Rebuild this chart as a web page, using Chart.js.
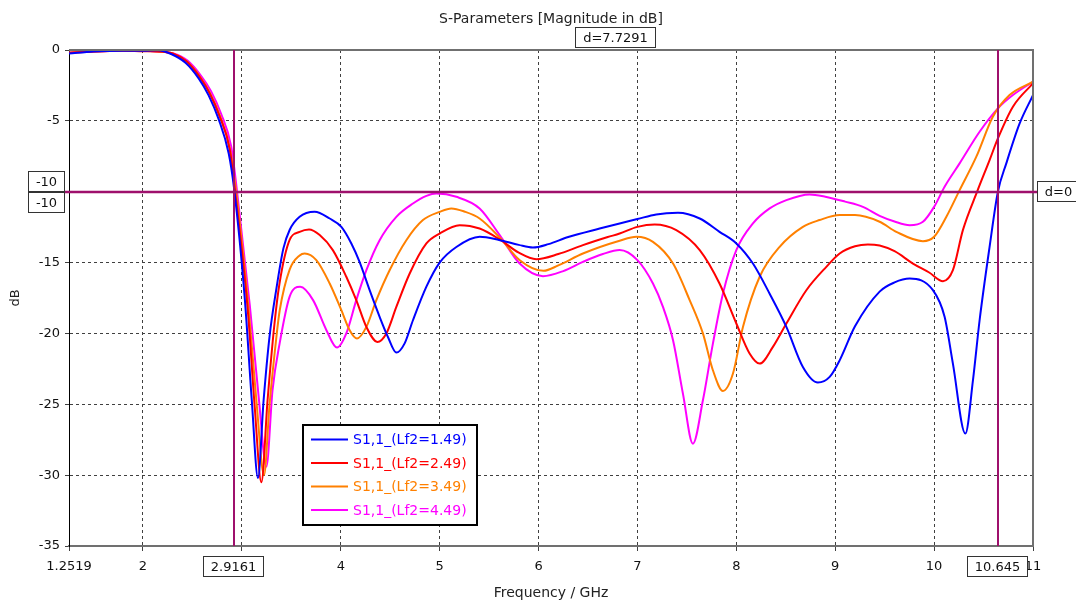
<!DOCTYPE html>
<html lang="en">
<head>
<meta charset="UTF-8">
<title>S-Parameters [Magnitude in dB]</title>
<script src="https://cdn.jsdelivr.net/npm/chart.js"></script>
<style>
  html, body { margin: 0; padding: 0; background: #ffffff; }
  canvas { display: block; }
</style>
</head>
<body>
<canvas id="sparams" width="1076" height="603"></canvas>
<script>
// S1,1 curves (frequency in GHz, magnitude in dB)
const freqBlue = [1.2519, 1.5, 1.8, 2.0, 2.15, 2.29, 2.43, 2.563, 2.664, 2.766, 2.867, 2.92, 3.03, 3.10, 3.163, 3.22, 3.28, 3.35, 3.42, 3.483, 3.584, 3.736, 3.888, 4.006, 4.107, 4.19, 4.292, 4.393, 4.477, 4.562, 4.646, 4.73, 4.866, 5.0, 5.169, 5.405, 5.6, 5.8, 5.943, 6.1, 6.3, 6.618, 6.82, 7.0, 7.19, 7.41, 7.63, 7.83, 8.0, 8.168, 8.337, 8.506, 8.673, 8.825, 8.944, 9.045, 9.2, 9.449, 9.6, 9.753, 9.988, 10.106, 10.19, 10.316, 10.393, 10.46, 10.561, 10.645, 10.73, 10.865, 11.0];
const dbBlue   = [-0.25, -0.1, -0.05, -0.05, -0.02, -0.3, -0.9, -2.0, -3.2, -4.9, -7.3, -9.7, -17.6, -24.7, -30.2, -24.7, -20.2, -16.8, -14.0, -12.7, -11.77, -11.42, -11.89, -12.48, -13.65, -14.95, -16.95, -18.83, -20.25, -21.35, -20.7, -19.07, -16.7, -15.0, -13.9, -13.18, -13.4, -13.75, -13.94, -13.7, -13.2, -12.6, -12.24, -11.93, -11.6, -11.49, -11.89, -12.83, -13.65, -15.07, -17.2, -19.54, -22.37, -23.47, -23.07, -21.9, -19.5, -17.05, -16.4, -16.13, -16.95, -18.83, -22.13, -27.07, -23.3, -19.07, -13.89, -10.0, -8.0, -5.18, -3.18];

const freqRed = [1.2519, 1.5, 1.8, 2.0, 2.15, 2.3, 2.44, 2.573, 2.674, 2.776, 2.877, 2.93, 3.06, 3.13, 3.197, 3.26, 3.33, 3.38, 3.483, 3.584, 3.679, 3.787, 3.92, 4.056, 4.157, 4.259, 4.37, 4.461, 4.562, 4.697, 4.866, 5.0, 5.202, 5.404, 5.607, 5.8, 5.978, 6.2, 6.449, 6.7, 6.82, 7.0, 7.174, 7.393, 7.63, 7.83, 8.0, 8.134, 8.236, 8.37, 8.506, 8.708, 8.91, 9.045, 9.2, 9.33, 9.449, 9.6, 9.786, 9.95, 10.09, 10.19, 10.291, 10.437, 10.561, 10.645, 10.797, 11.0];
const dbRed   = [-0.2, -0.1, -0.05, -0.08, -0.1, -0.25, -0.8, -1.9, -3.05, -4.7, -7.0, -9.9, -18.4, -25.2, -30.5, -24.7, -19.3, -16.5, -13.4, -12.83, -12.66, -13.06, -14.12, -16.0, -17.65, -19.54, -20.6, -20.0, -18.13, -15.77, -13.65, -12.95, -12.36, -12.6, -13.37, -14.3, -14.76, -14.4, -13.77, -13.2, -12.95, -12.48, -12.31, -12.71, -14.12, -16.48, -19.3, -21.42, -22.13, -20.95, -19.3, -16.95, -15.3, -14.36, -13.85, -13.72, -13.8, -14.2, -15.07, -15.7, -16.31, -15.54, -12.71, -9.96, -7.77, -6.24, -4.0, -2.35];

const freqOrange = [1.2519, 1.5, 1.8, 2.0, 2.15, 2.3, 2.44, 2.573, 2.674, 2.776, 2.877, 2.94, 3.07, 3.15, 3.224, 3.28, 3.35, 3.382, 3.483, 3.584, 3.635, 3.753, 3.888, 4.006, 4.09, 4.164, 4.259, 4.36, 4.494, 4.663, 4.831, 5.0, 5.118, 5.25, 5.404, 5.607, 5.81, 6.05, 6.2, 6.449, 6.82, 6.99, 7.157, 7.36, 7.528, 7.662, 7.763, 7.865, 7.966, 8.067, 8.236, 8.438, 8.673, 8.842, 9.045, 9.2, 9.449, 9.618, 9.887, 10.0, 10.124, 10.258, 10.427, 10.594, 10.763, 11.0];
const dbOrange   = [-0.2, -0.1, -0.05, -0.05, -0.1, -0.25, -0.8, -1.85, -3.0, -4.6, -6.9, -9.9, -18.4, -25.0, -30.0, -25.0, -20.2, -18.4, -15.5, -14.5, -14.36, -14.83, -16.48, -18.36, -19.77, -20.36, -19.54, -17.65, -15.54, -13.42, -12.0, -11.42, -11.18, -11.4, -11.89, -13.23, -14.83, -15.58, -15.2, -14.36, -13.46, -13.18, -13.54, -15.07, -17.65, -20.0, -22.6, -24.06, -22.83, -19.54, -16.0, -13.89, -12.48, -12.0, -11.65, -11.65, -12.12, -12.83, -13.49, -13.18, -11.77, -9.89, -7.53, -4.71, -3.18, -2.24];

const freqMagenta = [1.2519, 1.5, 1.8, 2.0, 2.15, 2.31, 2.45, 2.585, 2.688, 2.79, 2.892, 2.95, 3.08, 3.17, 3.248, 3.31, 3.382, 3.483, 3.59, 3.72, 3.855, 3.962, 4.056, 4.157, 4.259, 4.393, 4.562, 4.73, 4.866, 4.967, 5.169, 5.404, 5.607, 5.809, 6.045, 6.25, 6.449, 6.65, 6.82, 7.0, 7.157, 7.258, 7.36, 7.46, 7.561, 7.662, 7.763, 7.865, 8.0, 8.168, 8.337, 8.506, 8.74, 8.9, 9.1, 9.28, 9.449, 9.6, 9.753, 9.887, 10.0, 10.106, 10.258, 10.46, 10.645, 10.797, 11.0];
const dbMagenta   = [-0.2, -0.1, -0.05, -0.05, -0.1, -0.25, -0.75, -1.8, -2.9, -4.5, -6.8, -9.9, -18.0, -24.5, -29.4, -24.0, -20.7, -17.4, -16.71, -17.65, -19.77, -21.0, -20.0, -17.65, -15.54, -13.42, -11.77, -10.83, -10.29, -10.12, -10.36, -11.18, -13.06, -15.07, -15.96, -15.6, -14.95, -14.4, -14.12, -14.83, -16.48, -18.13, -20.48, -24.25, -27.78, -24.72, -20.72, -17.18, -14.12, -12.24, -11.18, -10.59, -10.19, -10.35, -10.7, -11.07, -11.7, -12.1, -12.36, -12.12, -11.07, -9.65, -8.0, -5.77, -4.12, -3.18, -2.24];

const seriesLabels = ['S1,1_(Lf2=1.49)', 'S1,1_(Lf2=2.49)', 'S1,1_(Lf2=3.49)', 'S1,1_(Lf2=4.49)'];
const seriesColors = ['#0000ff', '#ff0000', '#ff8000', '#ff00ff'];

const xTicks = [1.2519, 2, 3, 4, 5, 6, 7, 8, 9, 10, 11];
const yTicks = [-35, -30, -25, -20, -15, -10, -5, 0];

// marker positions from the reference (CST style markers)
const markerFreqs = [2.9161, 10.645];
const markerLevel = -10;

const FONT = "'DejaVu Sans', sans-serif";
const MARKER_COLOR = '#9e106c';
const FRAME_COLOR = '#707070';
const GRID_COLOR = '#404040';

function toPoints(xs, ys) {
    return xs.map((x, i) => ({ x: x, y: ys[i] }));
}

function drawBox(ctx, text, cx, cy, opts = {}) {
    ctx.font = '13px ' + FONT;
    const w = opts.width || Math.round(ctx.measureText(text).width + 16);
    const h = 21;
    const left = opts.right !== undefined ? opts.right - w : (opts.left !== undefined ? opts.left : Math.round(cx - w / 2));
    const top = Math.round(cy - h / 2);
    ctx.fillStyle = '#ffffff';
    ctx.fillRect(left, top, w, h);
    ctx.strokeStyle = '#333333';
    ctx.lineWidth = 1;
    ctx.strokeRect(left + 0.5, top + 0.5, w - 1, h - 1);
    ctx.fillStyle = '#111111';
    ctx.textAlign = 'center';
    ctx.textBaseline = 'middle';
    ctx.fillText(text, left + w / 2, top + h / 2 + 1);
}

const extras = {
    id: 'extras',
    beforeDraw(chart) {
        const ctx = chart.ctx;
        ctx.save();
        ctx.fillStyle = '#ffffff';
        ctx.fillRect(0, 0, chart.width, chart.height);
        ctx.restore();
    },
    afterDatasetsDraw(chart) {
        const ctx = chart.ctx;
        const area = chart.chartArea;
        const xs = chart.scales.x;
        const ys = chart.scales.y;
        ctx.save();
        // top and right frame
        ctx.strokeStyle = FRAME_COLOR;
        ctx.lineWidth = 2;
        ctx.beginPath();
        ctx.moveTo(area.left, area.top);
        ctx.lineTo(area.right, area.top);
        ctx.lineTo(area.right, area.bottom);
        ctx.stroke();

        // marker lines
        ctx.strokeStyle = MARKER_COLOR;
        ctx.lineWidth = 2;
        markerFreqs.forEach(f => {
            const px = Math.round(xs.getPixelForValue(f));
            ctx.beginPath();
            ctx.moveTo(px, area.top);
            ctx.lineTo(px, area.bottom);
            ctx.stroke();
        });
        const py = Math.round(ys.getPixelForValue(markerLevel));
        ctx.lineWidth = 2.5;
        ctx.beginPath();
        ctx.moveTo(area.left - 5, py);
        ctx.lineTo(area.right + 4, py);
        ctx.stroke();
        ctx.restore();
    },
    afterDraw(chart) {
        const ctx = chart.ctx;
        const area = chart.chartArea;
        const xs = chart.scales.x;
        const ys = chart.scales.y;
        ctx.save();

        // titles
        ctx.fillStyle = '#222222';
        ctx.font = '14px ' + FONT;
        ctx.textAlign = 'center';
        ctx.textBaseline = 'middle';
        ctx.fillText('S-Parameters [Magnitude in dB]', 551, 19);
        ctx.fillText('Frequency / GHz', 551, 593);
        ctx.save();
        ctx.translate(16, (area.top + area.bottom) / 2);
        ctx.rotate(-Math.PI / 2);
        ctx.font = '13px ' + FONT;
        ctx.fillText('dB', 0, 0);
        ctx.restore();

        // legend
        const lx = 303, ly = 425, lw = 174, lh = 100;
        ctx.fillStyle = '#ffffff';
        ctx.fillRect(lx, ly, lw, lh);
        ctx.strokeStyle = '#000000';
        ctx.lineWidth = 2;
        ctx.strokeRect(lx, ly, lw, lh);
        ctx.font = '14px ' + FONT;
        ctx.textAlign = 'left';
        ctx.textBaseline = 'middle';
        chart.data.datasets.forEach((ds, i) => {
            const y = 439.5 + i * 23.5;
            ctx.strokeStyle = ds.borderColor;
            ctx.lineWidth = 2;
            ctx.beginPath();
            ctx.moveTo(311, y);
            ctx.lineTo(348, y);
            ctx.stroke();
            ctx.fillStyle = ds.borderColor;
            ctx.fillText(ds.label, 353, y + 1);
        });

        // marker value boxes
        const m0 = xs.getPixelForValue(markerFreqs[0]);
        const m1 = xs.getPixelForValue(markerFreqs[1]);
        const py = ys.getPixelForValue(markerLevel);
        drawBox(ctx, markerFreqs[0].toFixed(4), m0, 566);
        drawBox(ctx, markerFreqs[1].toFixed(3), m1, 566);
        drawBox(ctx, 'd=7.7291', (m0 + m1) / 2, 37);
        drawBox(ctx, String(markerLevel), 0, py - 10, { right: 65 });
        drawBox(ctx, String(markerLevel), 0, py + 11, { right: 65 });
        drawBox(ctx, 'd=0', 0, py, { left: 1037 });
        ctx.restore();
    }
};

new Chart(document.getElementById('sparams'), {
    type: 'line',
    data: {
        datasets: [
            { label: seriesLabels[0], data: toPoints(freqBlue, dbBlue), borderColor: seriesColors[0] },
            { label: seriesLabels[1], data: toPoints(freqRed, dbRed), borderColor: seriesColors[1] },
            { label: seriesLabels[2], data: toPoints(freqOrange, dbOrange), borderColor: seriesColors[2] },
            { label: seriesLabels[3], data: toPoints(freqMagenta, dbMagenta), borderColor: seriesColors[3] }
        ].map(ds => ({
            ...ds,
            backgroundColor: ds.borderColor,
            borderWidth: 2,
            pointRadius: 0,
            fill: false,
            cubicInterpolationMode: 'monotone'
        }))
    },
    options: {
        responsive: false,
        animation: false,
        events: [],
        layout: { padding: { top: 50, right: 43, bottom: 0, left: 0 } },
        plugins: {
            legend: { display: false },
            title: { display: false },
            tooltip: { enabled: false }
        },
        scales: {
            x: {
                type: 'linear',
                min: 1.2519,
                max: 11,
                afterBuildTicks: scale => { scale.ticks = xTicks.map(v => ({ value: v })); },
                afterFit: scale => { scale.height = 57; },
                ticks: {
                    autoSkip: false,
                    maxRotation: 0,
                    padding: 8,
                    color: '#111111',
                    font: { family: FONT, size: 13 },
                    callback: v => (v === 3 ? '' : String(v))
                },
                grid: {
                    color: c => (c.tick && (c.tick.value === xTicks[0] || c.tick.value === 11) ? 'rgba(0,0,0,0)' : GRID_COLOR),
                    lineWidth: 1,
                    tickColor: GRID_COLOR,
                    tickLength: 5,
                    tickBorderDash: []
                },
                border: { color: FRAME_COLOR, width: 2, dash: [3, 3] }
            },
            y: {
                type: 'linear',
                min: -35,
                max: 0,
                afterBuildTicks: scale => { scale.ticks = yTicks.map(v => ({ value: v })); },
                afterFit: scale => { scale.width = 69; },
                ticks: {
                    padding: 5,
                    color: '#111111',
                    font: { family: FONT, size: 13 },
                    callback: v => (v === markerLevel ? '' : String(v))
                },
                grid: {
                    color: c => (c.tick && (c.tick.value === 0 || c.tick.value === -35) ? 'rgba(0,0,0,0)' : GRID_COLOR),
                    lineWidth: 1,
                    tickColor: GRID_COLOR,
                    tickLength: 4,
                    tickBorderDash: []
                },
                border: { color: '#000000', width: 1, dash: [3, 3] }
            }
        }
    },
    plugins: [extras]
});
</script>
</body>
</html>
